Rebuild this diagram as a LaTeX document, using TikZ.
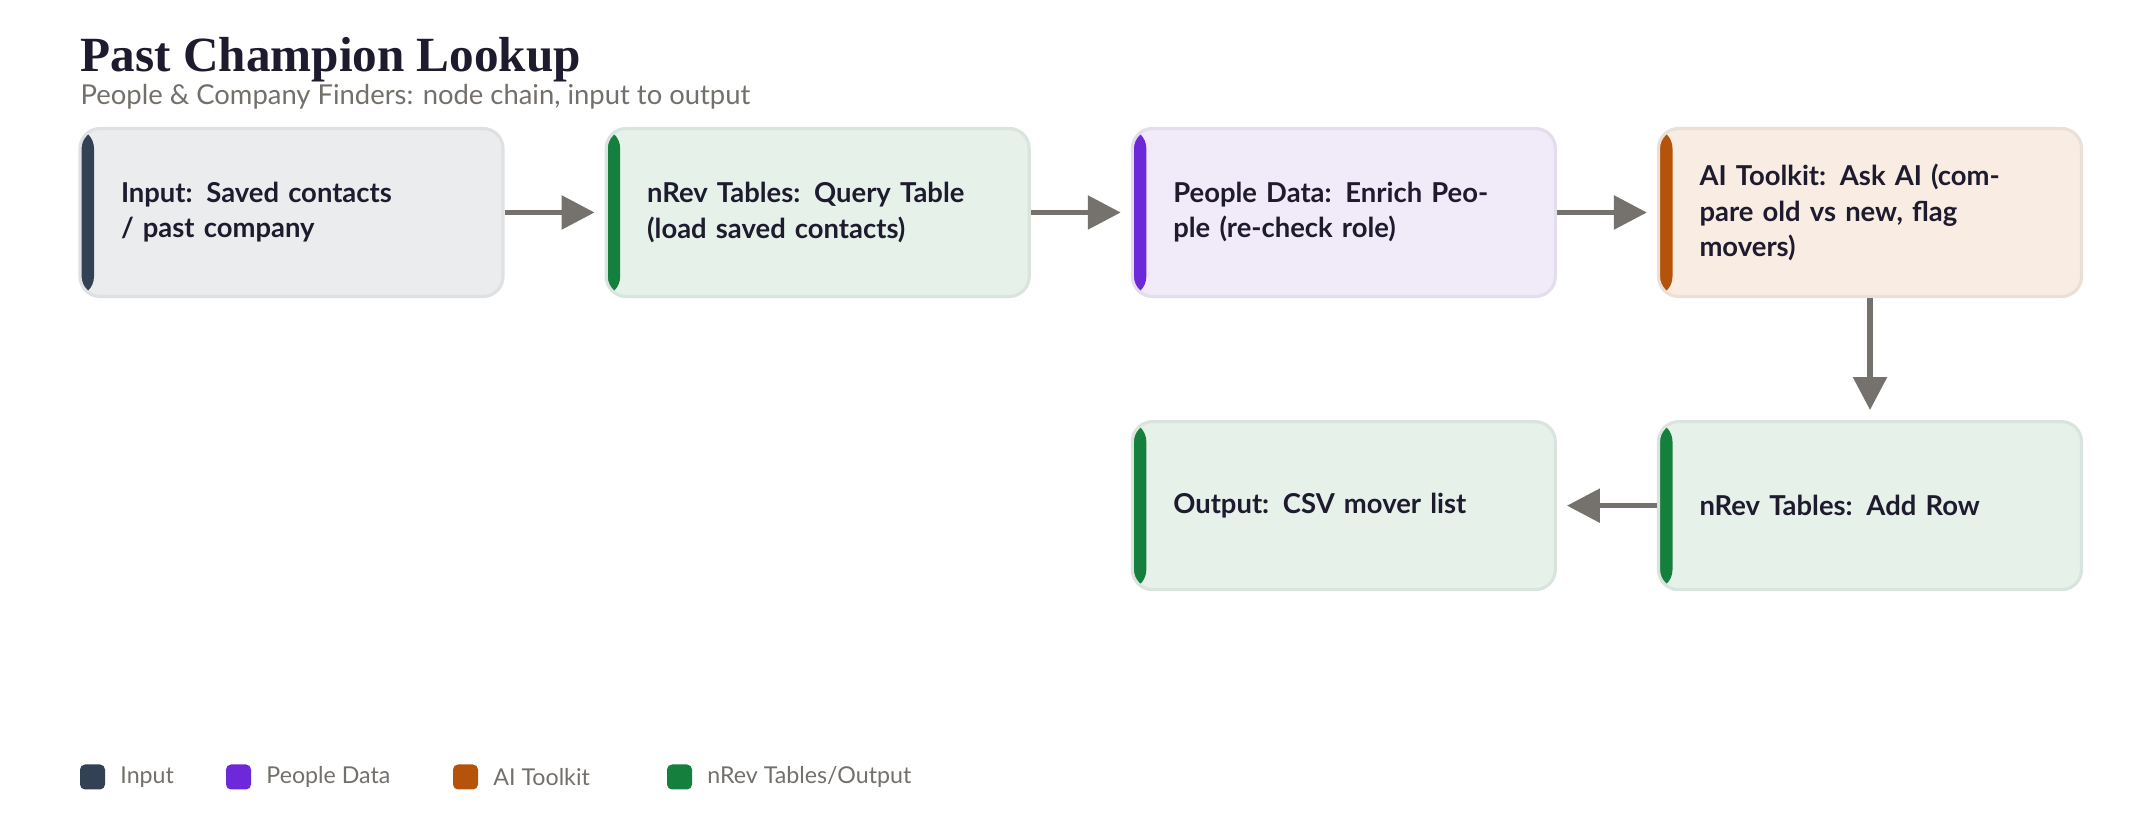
\documentclass[tikz,border=0pt]{standalone}
\usepackage{fontspec}
\setmainfont{Lato}
\newfontfamily\titlefont{Liberation Serif}
\usetikzlibrary{positioning,arrows.meta}
\definecolor{inkdark}{HTML}{1E1B2E}
\definecolor{subgrey}{HTML}{736F6B}
\definecolor{arrowgrey}{HTML}{75716C}
\definecolor{inputbar}{HTML}{334155}
\definecolor{inputfill}{HTML}{EBECEE}
\definecolor{tablebar}{HTML}{15803D}
\definecolor{tablefill}{HTML}{E6F1EA}
\definecolor{peoplebar}{HTML}{6D28D9}
\definecolor{peoplefill}{HTML}{F0EAF9}
\definecolor{aibar}{HTML}{B45309}
\definecolor{aifill}{HTML}{F8ECE3}
\tikzset{
  step/.style n args={2}{draw=#2!85!black!35!#2, line width=0.9pt, fill=#2,
    rounded corners=0.2cm, minimum width=4.23cm, minimum height=1.68cm,
    text width=3.41cm, inner xsep=0pt, align=left, text=inkdark,
    font=\fontsize{7.8}{10}\selectfont\bfseries,
    path picture={\fill[#1] (path picture bounding box.south west)
      rectangle ([xshift=0.14cm]path picture bounding box.north west);}},
  flow/.style={draw=arrowgrey, line width=1.6pt, shorten >=0.1cm,
    -{Triangle[length=0.33cm,width=0.33cm]}},
  key/.style={fill=#1, rounded corners=0.05cm, minimum size=0.25cm, inner sep=0pt},
  keytext/.style={anchor=west, text=subgrey, font=\fontsize{6.6}{8}\selectfont}
}
\begin{document}
\begin{tikzpicture}
  \useasboundingbox (0,0) rectangle (21.4,-8.24);
  % titre
  \node[anchor=base west, inner sep=0pt, text=inkdark, font=\titlefont\fontsize{14}{16}\selectfont\bfseries]
    (title) at (0.8,-0.72) {Past Champion Lookup};
  \node[anchor=base west, inner sep=0pt, text=subgrey, font=\fontsize{7.8}{9}\selectfont]
    (subtitle) at (0.8,-1.05) {People \& Company Finders: node chain, input to output};
  % premiere rangee
  \node[step={inputbar}{inputfill}] (input) at (2.915,-2.125) {Input: Saved contacts\\/ past company};
  \node[step={tablebar}{tablefill}, right=1.0cm of input] (query) {nRev Tables: Query Table (load saved contacts)};
  \node[step={peoplebar}{peoplefill}, right=1.0cm of query] (enrich) {People Data: Enrich People (re-check role)};
  \node[step={aibar}{aifill}, right=1.0cm of enrich] (askai) {AI Toolkit: Ask AI (compare old vs new, flag movers)};
  % deuxieme rangee
  \node[step={tablebar}{tablefill}, below=1.22cm of askai] (addrow) {nRev Tables: Add Row};
  \node[step={tablebar}{tablefill}, left=1.0cm of addrow] (output) {Output: CSV mover list};
  % fleches
  \draw[flow] (input) -- (query);
  \draw[flow] (query) -- (enrich);
  \draw[flow] (enrich) -- (askai);
  \draw[flow] (askai) -- (addrow);
  \draw[flow] (addrow) -- (output);
  % legende
  \node[key=inputbar] (k1) at (0.925,-7.77) {};
  \node[keytext] (t1) at (1.08,-7.77) {Input};
  \node[key=peoplebar] (k2) at (2.385,-7.77) {};
  \node[keytext] (t2) at (2.54,-7.77) {People Data};
  \node[key=aibar] (k3) at (4.655,-7.77) {};
  \node[keytext] (t3) at (4.81,-7.77) {AI Toolkit};
  \node[key=tablebar] (k4) at (6.795,-7.77) {};
  \node[keytext] (t4) at (6.95,-7.77) {nRev Tables/Output};
\end{tikzpicture}
\end{document}
